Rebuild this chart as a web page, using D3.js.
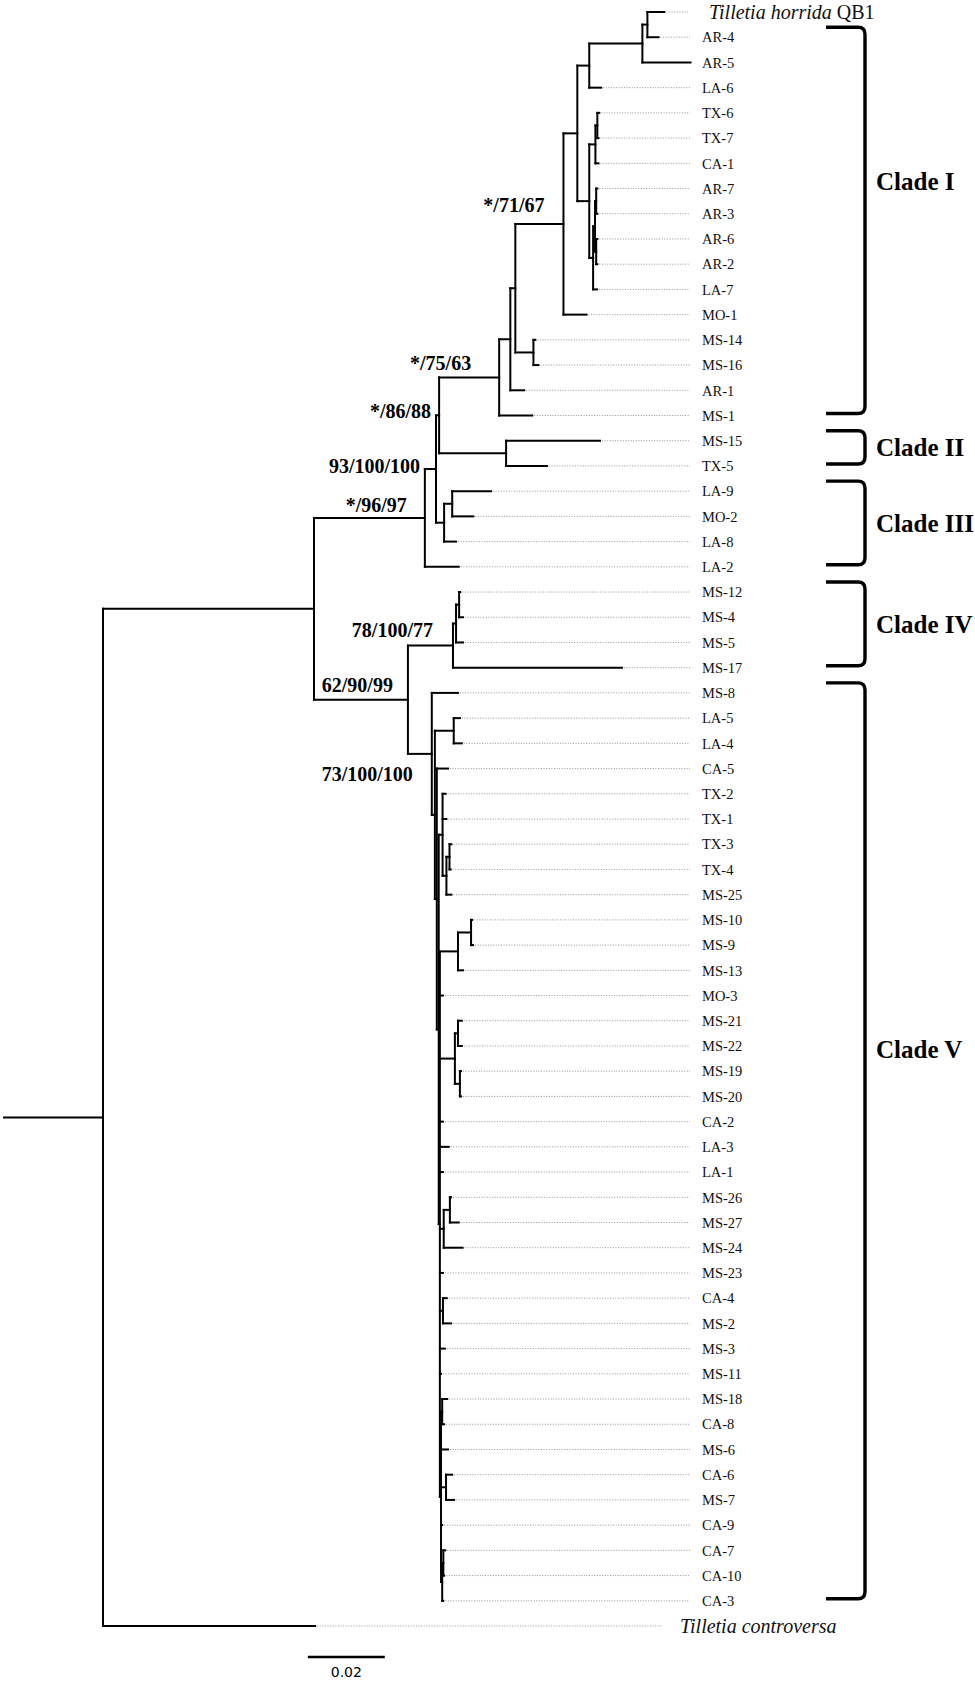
<!DOCTYPE html>
<html>
<head>
<meta charset="utf-8">
<script src="https://cdn.jsdelivr.net/npm/d3@7"></script>
<style>
  body { margin: 0; background: #fff; }
  svg { display: block; }
</style>
</head>
<body>
<svg id="tree"></svg>
<script>
// Branch lengths (substitutions per site), one Newick piece per clade
const cladeI = "((((((((Tilletia_horrida_QB1:0.0044,AR-4:0.0029)Nf:0.0013,AR-5:0.0125)Ne:0.0138,LA-6:0.0031)Nd:0.0031," +
  "(((TX-6:0.0005,TX-7:0.0003)Ni:0.0005,CA-1:0.0008)Nh:0.0016," +
  "(((AR-7:0.0003,AR-3:0.0003)N2a:0.0003,(AR-6:0.0003,AR-2:0.0003)N2b:0.0003)N2n:0.0005,LA-7:0.0010)N1:0.0010)Ng:0.0031)Nc:0.0036," +
  "MO-1:0.0060)Nb:0.0125,(MS-14:0.0005,MS-16:0.0013)Nm:0.0047)N71:0.0013,AR-1:0.0036)Na:0.0029,MS-1:0.0086)N75";
const cladeII = "(MS-15:0.0244,TX-5:0.0106)N2c";
const cladeIII = "((LA-9:0.0101,MO-2:0.0055)N3a:0.0021,LA-8:0.0031)N3";
const cladeIV = "(((MS-12:0.0003,MS-4:0.0010)Q:0.0008,MS-5:0.0018)P:0.0008,MS-17:0.0439)N78";
const cladeV = "(MS-8:0.0068,((LA-5:0.0016,LA-4:0.0021)L54:0.0049,(CA-5:0.0029," +
  "((TX-2:0.0008,TX-1:0.0010,((TX-3:0.0005,TX-4:0.0003)Y:0.0008,MS-25:0.0013)X:0.0010)TXg:0.0010," +
  "(((MS-10:0.0003,MS-9:0.0005)M10a:0.0034,MS-13:0.0013)M10:0.0047,MO-3:0.0008," +
  "((MS-21:0.0010,MS-22:0.0010)M21a:0.0008,(MS-19:0.0003,MS-20:0.0003)M21b:0.0013)M21:0.0039," +
  "CA-2:0.0008,LA-3:0.0023,LA-1:0.0008,((MS-26:0.0003,MS-27:0.0023)M26a:0.0016,MS-24:0.0049)M26:0.0010," +
  "MS-23:0.0008,(CA-4:0.0010,MS-2:0.0021)C4:0.0008,MS-3:0.0013,MS-11:0.0003," +
  "((MS-18:0.0013,CA-8:0.0005)M18:0.0003,MS-6:0.0018,(CA-6:0.0016,MS-7:0.0021)C6:0.0013,CA-9:0.0003," +
  "((CA-7:0.0005,CA-10:0.0002)C7a:0.0003,CA-3:0.0003)C7:0.0003)R5:0.0003)R4:0.0003)R3:0.0005)R2:0.0005)R1:0.0008)N73";

const newick = "((((((" + cladeI + ":0.0156," + cladeII + ":0.0174)N86:0.0008," + cladeIII + ":0.0021)N93:0.0029,LA-2:0.0088)N96:0.0288," +
  "(" + cladeIV + ":0.0117," + cladeV + ":0.0062)N62:0.0244)IG:0.0548,Tilletia_controversa:0.0551)Root;";

// support values (node: text)
const supportNodes = ["Nb", "N75", "N86", "N93", "N96", "N78", "N62", "N73"];
const supportText = ["*/71/67", "*/75/63", "*/86/88", "93/100/100", "*/96/97", "78/100/77", "62/90/99", "73/100/100"];

// clade brackets
const cladeNames = ["Clade I", "Clade II", "Clade III", "Clade IV", "Clade V"];
const cladeFirst = ["AR-4", "MS-15", "LA-9", "MS-12", "MS-8"];
const cladeLast = ["MS-1", "TX-5", "LA-2", "MS-17", "CA-3"];

const scaleBarLength = 0.02;
const scaleBarLabel = "0.02";

const width = 975;
const height = 1681;

const svg = d3.select("#tree")
  .attr("width", width)
  .attr("height", height)
  .attr("viewBox", [0, 0, width, height]);

function parseNewick(s) {
  let i = 0;
  function node() {
    const n = {children: []};
    if (s[i] === "(") {
      i++;
      do { n.children.push(node()); } while (s[i++] === ",");
    }
    let name = "";
    while (i < s.length && !",):;".includes(s[i])) name += s[i++];
    n.name = name.replace(/_/g, " ");
    n.length = 0;
    if (s[i] === ":") {
      i++;
      let len = "";
      while (i < s.length && !",);".includes(s[i])) len += s[i++];
      n.length = +len;
    }
    if (!n.children.length) delete n.children;
    return n;
  }
  return node();
}

const root = d3.hierarchy(parseNewick(newick));
const leaves = root.leaves();

const x = d3.scaleLinear().domain([0, scaleBarLength]).range([103, 180]);
const y = d3.scaleLinear().domain([0, leaves.length - 1]).range([12, 1626]);

// cumulative distance from root
root.each(d => { d.dist = d.parent ? d.parent.dist + d.data.length : 0; });
leaves.forEach((d, i) => { d.row = i; d.py = y(i); });
root.eachAfter(d => {
  if (d.children) d.py = (d.children[0].py + d.children[d.children.length - 1].py) / 2;
  d.px = x(d.dist);
});

const byName = new Map();
root.each(d => byName.set(d.data.name, d));

const g = svg.append("g");

// leader dots
const leaderEnd = {"Tilletia controversa": 662, "Tilletia horrida QB1": 688};
g.append("g")
  .selectAll("line")
  .data(leaves.filter(d => d.px < (leaderEnd[d.data.name] || 690) - 4))
  .join("line")
  .attr("x1", d => d.px + 2)
  .attr("x2", d => leaderEnd[d.data.name] || 690)
  .attr("y1", d => d.py)
  .attr("y2", d => d.py)
  .attr("stroke", "#8a8a8a")
  .attr("stroke-width", 0.9)
  .attr("stroke-dasharray", "1 1.6");

// branches
const branches = g.append("g")
  .attr("stroke", "#000")
  .attr("stroke-width", 2)
  .attr("stroke-linecap", "square")
  .attr("fill", "none");

branches.selectAll("path.h")
  .data(root.descendants().filter(d => d.parent))
  .join("path")
  .attr("class", "h")
  .attr("d", d => `M${d.parent.px},${d.py}H${d.px}`);

branches.selectAll("path.v")
  .data(root.descendants().filter(d => d.children))
  .join("path")
  .attr("class", "v")
  .attr("d", d => `M${d.px},${d.children[0].py}V${d.children[d.children.length - 1].py}`);

// root stub
branches.append("path").attr("d", `M4,${root.py}H${root.px}`);

// tip labels
const tipX = {"Tilletia controversa": 680, "Tilletia horrida QB1": 709};
const tips = g.append("g").attr("font-family", "'Liberation Serif', 'Times New Roman', serif");
tips.selectAll("text")
  .data(leaves)
  .join("text")
  .attr("x", d => tipX[d.data.name] || 702)
  .attr("y", d => d.py)
  .attr("dy", "0.36em")
  .attr("font-size", d => d.data.name.startsWith("Tilletia") ? 20 : 14.5)
  .attr("fill", "#111")
  .each(function(d) {
    const t = d3.select(this);
    if (d.data.name === "Tilletia horrida QB1") {
      t.append("tspan").attr("font-style", "italic").text("Tilletia horrida");
      t.append("tspan").text(" QB1");
    } else if (d.data.name === "Tilletia controversa") {
      t.attr("font-style", "italic").text(d.data.name);
    } else {
      t.text(d.data.name);
    }
  });

// support values, nudged the way they sit in the figure
const supportNudge = {
  Nb: [-19, -12], N75: [-28, -7], N86: [-8, 3], N93: [-16, 4],
  N96: [-18, -6], N78: [-20, -9], N62: [-15, -8], N73: [-19, 27]
};
g.append("g")
  .attr("font-family", "'Liberation Serif', 'Times New Roman', serif")
  .attr("font-weight", "bold")
  .attr("font-size", 20)
  .selectAll("text")
  .data(supportNodes.map((n, i) => ({node: byName.get(n), id: n, text: supportText[i]})))
  .join("text")
  .attr("text-anchor", "end")
  .attr("x", d => d.node.px + supportNudge[d.id][0])
  .attr("y", d => d.node.py + supportNudge[d.id][1])
  .text(d => d.text);

// clade brackets
const cladeLabelDy = {"Clade I": -39, "Clade V": -92};
const bracketLeft = 826, bracketRight = 865, r = 7;
const clades = cladeNames.map((name, i) => ({
  name,
  y0: byName.get(cladeFirst[i]).py - 10,
  y1: byName.get(cladeLast[i]).py - 2
}));

g.append("g")
  .attr("fill", "none")
  .attr("stroke", "#000")
  .attr("stroke-width", 3.4)
  .selectAll("path")
  .data(clades)
  .join("path")
  .attr("d", d => `M${bracketLeft},${d.y0}H${bracketRight - r}Q${bracketRight},${d.y0} ${bracketRight},${d.y0 + r}` +
    `V${d.y1 - r}Q${bracketRight},${d.y1} ${bracketRight - r},${d.y1}H${bracketLeft}`);

g.append("g")
  .attr("font-family", "'Liberation Serif', 'Times New Roman', serif")
  .attr("font-weight", "bold")
  .attr("font-size", 25)
  .selectAll("text")
  .data(clades)
  .join("text")
  .attr("x", 876)
  .attr("y", d => (d.y0 + d.y1) / 2 + (cladeLabelDy[d.name] || 0))
  .attr("dy", "0.35em")
  .text(d => d.name);

// scale bar
const sb0 = 0.0532;
g.append("line")
  .attr("x1", x(sb0))
  .attr("x2", x(sb0 + scaleBarLength))
  .attr("y1", 1657)
  .attr("y2", 1657)
  .attr("stroke", "#000")
  .attr("stroke-width", 2.5);

g.append("text")
  .attr("x", (x(sb0) + x(sb0 + scaleBarLength)) / 2)
  .attr("y", 1677)
  .attr("text-anchor", "middle")
  .attr("font-family", "'DejaVu Sans', sans-serif")
  .attr("font-size", 14)
  .text(scaleBarLabel);
</script>
</body>
</html>
